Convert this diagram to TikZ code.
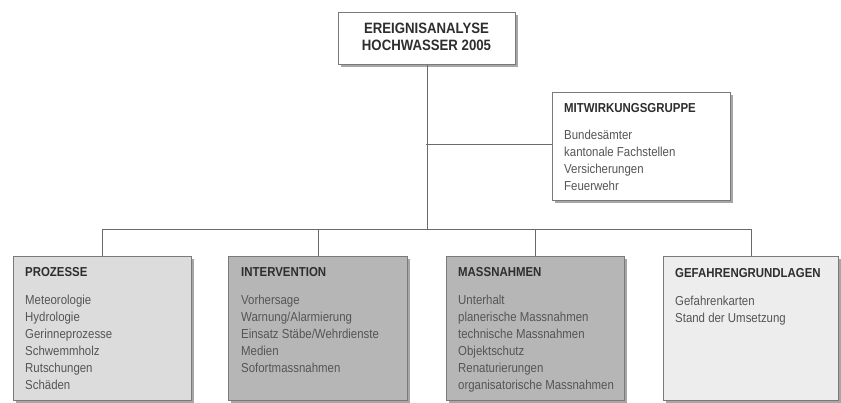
\documentclass[tikz,border=0pt]{standalone}
\usepackage{fontspec}
\setmainfont{Liberation Sans}[FakeStretch=0.88]
\usetikzlibrary{shadows}
\definecolor{bordergray}{HTML}{7A7A7A}
\definecolor{linegray}{HTML}{6A6A6A}
\definecolor{titlecol}{HTML}{2E2E2E}
\definecolor{bodycol}{HTML}{555555}
\definecolor{fillA}{HTML}{DCDCDC}
\definecolor{fillB}{HTML}{B6B6B6}
\definecolor{fillC}{HTML}{EDEDED}
\begin{document}
\begin{tikzpicture}[x=1pt,y=-1pt,
  box/.style={draw=bordergray, line width=0.8pt, anchor=north west, inner sep=0pt,
    drop shadow={shadow xshift=3pt, shadow yshift=-3pt, fill=black, opacity=0.35}},
  ttl/.style={anchor=base west, inner sep=0pt, text=titlecol, font=\fontsize{13}{15}\selectfont\bfseries},
  itm/.style={anchor=base west, inner sep=0pt, text=bodycol, font=\fontsize{13}{15}\selectfont},
  conn/.style={draw=linegray, line width=0.8pt}]
\useasboundingbox (0,0) rectangle (841,403);

% boxes
\node[box, fill=white, minimum width=177pt, minimum height=52pt] (top) at (338,12) {};
\node[box, fill=white, minimum width=178pt, minimum height=108pt] (mit) at (552,92) {};
\node[box, fill=fillA, minimum width=178pt, minimum height=144pt] (proz) at (13,256) {};
\node[box, fill=fillB, minimum width=179pt, minimum height=144pt] (inter) at (228,256) {};
\node[box, fill=fillB, minimum width=178pt, minimum height=144pt] (mass) at (446,256) {};
\node[box, fill=fillC, minimum width=175pt, minimum height=144pt] (gef) at (663,256) {};

% connectors
\coordinate (bus) at (426,229);
\coordinate (side) at (426,144);
\draw[conn] (top.south) -- (top.south |- bus);
\draw[conn] (side) -- (mit.west |- side);
\draw[conn] (proz.north) |- (gef.north |- bus) -- (gef.north);
\draw[conn] (inter.north) -- (inter.north |- bus);
\draw[conn] (mass.north) -- (mass.north |- bus);

% top title
\node[anchor=base, inner sep=0pt, text=titlecol, font=\fontsize{15}{17}\selectfont\bfseries] (t1) at (426.5,34) {EREIGNISANALYSE};
\node[anchor=base, inner sep=0pt, text=titlecol, font=\fontsize{15}{17}\selectfont\bfseries] (t2) at (426.5,51) {HOCHWASSER 2005};

% Mitwirkungsgruppe
\node[ttl] (mt) at (564,113) {MITWIRKUNGSGRUPPE};
\foreach \t [count=\i] in {Bundesämter, kantonale Fachstellen, Versicherungen, Feuerwehr}
  \node[itm] (m\i) at (564,{140+16.8*(\i-1)}) {\t};

% Prozesse
\node[ttl] (pt) at (25,277) {PROZESSE};
\foreach \t [count=\i] in {Meteorologie, Hydrologie, Gerinneprozesse, Schwemmholz, Rutschungen, Schäden}
  \node[itm] (p\i) at (25,{305+16.8*(\i-1)}) {\t};

% Intervention
\node[ttl] (it) at (241,277) {INTERVENTION};
\foreach \t [count=\i] in {Vorhersage, Warnung/Alarmierung, Einsatz Stäbe/Wehrdienste, Medien, Sofortmassnahmen}
  \node[itm] (i\i) at (241,{305+16.8*(\i-1)}) {\t};

% Massnahmen
\node[ttl] (mat) at (458,277) {MASSNAHMEN};
\foreach \t [count=\i] in {Unterhalt, planerische Massnahmen, technische Massnahmen, Objektschutz, Renaturierungen, organisatorische Massnahmen}
  \node[itm] (ma\i) at (458,{305+16.8*(\i-1)}) {\t};

% Gefahrengrundlagen
\node[ttl] (gt) at (675,278) {GEFAHRENGRUNDLAGEN};
\foreach \t [count=\i] in {Gefahrenkarten, Stand der Umsetzung}
  \node[itm] (g\i) at (675,{306+16.8*(\i-1)}) {\t};
\end{tikzpicture}
\end{document}
